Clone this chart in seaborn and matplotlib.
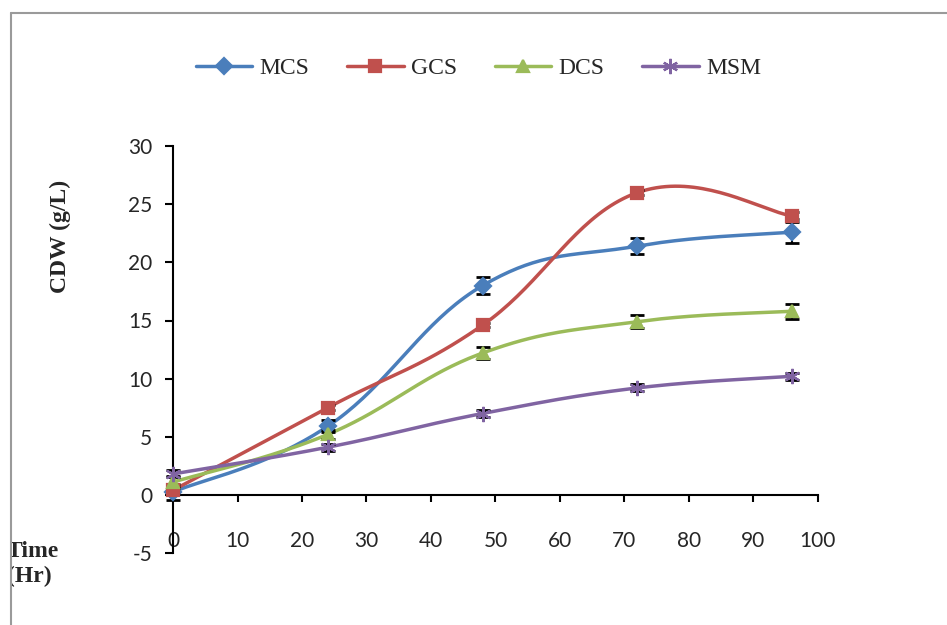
import numpy as np
import pandas as pd
import matplotlib
matplotlib.use("Agg")
import matplotlib.pyplot as plt
from matplotlib.lines import Line2D
from matplotlib.patches import Rectangle
import seaborn as sns

# Cell dry weight over time for the four media
time = [0, 24, 48, 72, 96]
mcs = [0.25, 5.9, 18.0, 21.4, 22.6]
gcs = [0.4, 7.5, 14.6, 26.0, 24.0]
dcs = [1.1, 5.2, 12.2, 14.9, 15.8]
msm = [1.8, 4.1, 7.0, 9.2, 10.2]

mcs_err = [0.7, 0.5, 0.7, 0.7, 0.9]
gcs_err = [0.3, 0.2, 0.2, 0.2, 0.3]
dcs_err = [0.5, 0.4, 0.5, 0.55, 0.65]
msm_err = [0.3, 0.3, 0.3, 0.3, 0.3]

series = ["MCS", "GCS", "DCS", "MSM"]
values = [mcs, gcs, dcs, msm]
errors = [mcs_err, gcs_err, dcs_err, msm_err]
colors = ["#4A7EBB", "#C0504D", "#9BBB59", "#8064A2"]
markers = ["D", "s", "^", (6, 2, 0)]
msizes = [8.5, 8, 9, 11]

xticks = list(range(0, 101, 10))
yticks = list(range(-5, 31, 5))


def smooth(x, y, n=40, k=5):
    # Excel-style smoothed line (bezier through the points)
    pts = np.column_stack([x, y]).astype(float)
    p = np.vstack([pts[0], pts, pts[-1]])
    t = np.linspace(0, 1, n)[:, None]
    segs = []
    for i in range(1, len(p) - 2):
        p0, p1, p2, p3 = p[i - 1], p[i], p[i + 1], p[i + 2]
        c1 = p1 + (p2 - p0) / k
        c2 = p2 - (p3 - p1) / k
        segs.append((1 - t) ** 3 * p1 + 3 * (1 - t) ** 2 * t * c1
                    + 3 * (1 - t) * t ** 2 * c2 + t ** 3 * p2)
    return np.vstack(segs)


sns.set_theme(style="white")
plt.rcParams["font.family"] = ["Lato", "DejaVu Sans"]
plt.rcParams["axes.unicode_minus"] = False

fig = plt.figure(figsize=(9.47, 6.25), dpi=100)
ax = fig.add_axes([0.1827, 0.1152, 0.681, 0.651])

handles = []
for name, vals, err, col, mk, ms in zip(series, values, errors, colors, markers, msizes):
    curve = smooth(time, vals)
    df = pd.DataFrame({"x": curve[:, 0], "y": curve[:, 1]})
    sns.lineplot(data=df, x="x", y="y", sort=False, estimator=None,
                 color=col, linewidth=2.5, ax=ax, zorder=3)
    ax.errorbar(time, vals, yerr=err, fmt="none", ecolor="black",
                elinewidth=1.5, capsize=5, capthick=2, zorder=4, clip_on=False)
    ax.plot(time, vals, linestyle="none", marker=mk, markersize=ms,
            color=col, markeredgecolor=col, markeredgewidth=1.6,
            zorder=5, clip_on=False)
    handles.append(Line2D([], [], color=col, linewidth=2.5, marker=mk,
                          markersize=ms, markeredgecolor=col, markeredgewidth=1.6))

ax.set_xlim(0, 100)
ax.set_ylim(-5, 30)
ax.set_xticks(xticks)
ax.set_yticks(yticks)
ax.set_xlabel("")
ax.set_ylabel("")

ax.spines["top"].set_visible(False)
ax.spines["right"].set_visible(False)
ax.spines["bottom"].set_position(("data", 0))
for s in ["left", "bottom"]:
    ax.spines[s].set_color("black")
    ax.spines[s].set_linewidth(1.5)
ax.tick_params(axis="y", direction="out", length=6, width=1.5, color="black",
               labelsize=15, pad=9, left=True)
ax.tick_params(axis="x", direction="out", length=5, width=1.5, color="black",
               labelsize=15, pad=21, bottom=True)
ax.grid(False)

serif = {"family": "Liberation Serif", "weight": "bold", "size": 17}
fig.text(60 / 947, 1 - 236 / 625, "CDW (g/L)", rotation=90,
         ha="center", va="center", fontdict=serif)
fig.text(7 / 947, 1 - 541 / 625, "Time\n(Hr)", ha="left", va="top",
         linespacing=1.25, fontdict=serif)

fig.legend(handles, series, loc="center", bbox_to_anchor=(0.505, 0.891),
           ncol=4, frameon=False, handlelength=2.4, handletextpad=0.3,
           columnspacing=1.6, prop={"family": "Liberation Serif", "size": 17})

# chart area border, cut at the left like the original
fig.add_artist(Rectangle((0, 0), 10 / 947, 1, transform=fig.transFigure,
                         facecolor="white", edgecolor="none", zorder=10))
fig.add_artist(Line2D([10.5 / 947, 10.5 / 947], [0, 1 - 13 / 625],
                      transform=fig.transFigure, color="#9A9A9A", lw=1.5, zorder=11))
fig.add_artist(Line2D([10.5 / 947, 1], [1 - 13 / 625, 1 - 13 / 625],
                      transform=fig.transFigure, color="#9A9A9A", lw=1.5, zorder=11))

fig.savefig("out.png", dpi=100)
